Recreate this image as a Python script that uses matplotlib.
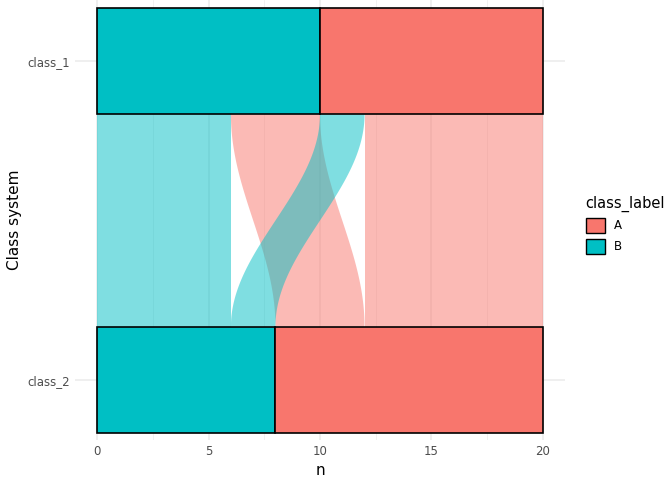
import numpy as np
import matplotlib
matplotlib.use("Agg")
import matplotlib.pyplot as plt
from matplotlib.patches import Rectangle, Polygon, Patch

axes_names = ["class_2", "class_1"]
labels = ["B", "A"]
# flows (class_1 -> class_2)
flow_from = ["B", "B", "A", "A"]
flow_to = ["B", "A", "B", "A"]
flow_n = [6, 4, 2, 8]
colors = {"A": "#F8766D", "B": "#00BFC4"}

fig = plt.figure(figsize=(6.72, 4.8), dpi=100)
ax = fig.add_axes([75/672, 40/480, 490/672, 440/480])
w = 1/3

def stack(keys, vals):
    order = sorted(range(len(keys)), key=lambda i: (labels.index(keys[i]), i))
    pos = {}; c = 0
    for i in order:
        pos[i] = (c, c + vals[i]); c += vals[i]
    return pos

top = stack(flow_from, flow_n)
# bottom: order by class_2 then class_1
order_b = sorted(range(4), key=lambda i: (labels.index(flow_to[i]), labels.index(flow_from[i])))
bot = {}; c = 0
for i in order_b:
    bot[i] = (c, c + flow_n[i]); c += flow_n[i]

y0, y1 = 2 - w/2, 1 + w/2
t = np.linspace(0, 1, 100)
s = (1 - np.cos(np.pi * t)) / 2
ys = y0 + (y1 - y0) * t
for i in range(4):
    l = top[i][0] + (bot[i][0] - top[i][0]) * s
    r = top[i][1] + (bot[i][1] - top[i][1]) * s
    pts = np.concatenate([np.column_stack([l, ys]), np.column_stack([r, ys])[::-1]])
    ax.add_patch(Polygon(pts, closed=True, facecolor=colors[flow_to[i]], alpha=0.5, lw=0, zorder=2))

for yi, keys in [(2, flow_from), (1, flow_to)]:
    c = 0
    for lab in labels:
        tot = sum(n for k, n in zip(keys, flow_n) if k == lab)
        ax.add_patch(Rectangle((c, yi - w/2), tot, w, facecolor=colors[lab], edgecolor="black", lw=1.2, zorder=3))
        c += tot

ax.set_xlim(-1, 21)
ax.set_ylim(5/6 - 7/319, 13/6 + 8/319)
ax.set_xticks([0, 5, 10, 15, 20])
ax.set_xticks([2.5, 7.5, 12.5, 17.5], minor=True)
ax.set_yticks([1, 2]); ax.set_yticklabels(axes_names)
ax.grid(True, which="major", color="#EBEBEB", lw=1.1, zorder=0)
ax.grid(True, which="minor", axis="x", color="#EBEBEB", lw=0.5, zorder=0)
ax.set_axisbelow(True)
for sp in ax.spines.values(): sp.set_visible(False)
ax.tick_params(length=0, labelsize=8.5, labelcolor="#4D4D4D", which="both")
ax.set_xlabel("n", fontsize=11)
ax.set_ylabel("Class system", fontsize=11)

handles = [Patch(facecolor=colors[k], edgecolor="black", label=k) for k in ["A", "B"]]
fig.legend(handles=handles, title="class_label", loc="upper left", bbox_to_anchor=(575/672, 295/480),
           frameon=False, fontsize=8.5, title_fontsize=10.5, handlelength=1.6, handleheight=1.6, alignment="left")
fig.savefig("out.png")
